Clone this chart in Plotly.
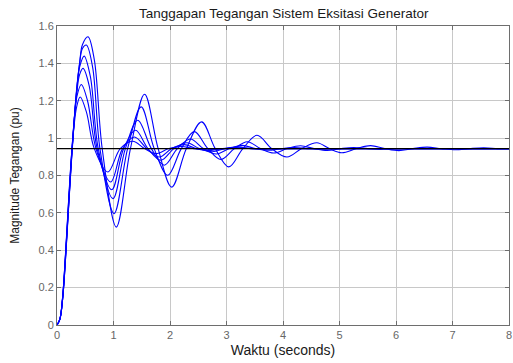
import plotly.graph_objects as go

# Step responses of the generator excitation system (six parameter settings)
t1 = [0, 0.05, 0.10, 0.15, 0.20, 0.25, 0.30, 0.35, 0.40, 0.45, 0.55, 0.66, 0.80, 1.05, 1.30, 1.55, 1.79, 2.03,
      2.29, 2.56, 2.80, 3.04, 3.29, 3.54, 3.80, 4.07, 4.33, 4.60, 4.82, 5.04, 5.30, 5.55, 5.80, 6.05, 6.30,
      6.55, 6.80, 7.05, 7.30, 7.55, 7.80, 8.00]
v1 = [0, 0.03, 0.14, 0.35, 0.60, 0.85, 1.07, 1.26, 1.40, 1.50, 1.542, 1.42, 0.944, 0.524, 0.944, 1.235, 0.944,
      0.738, 0.944, 1.087, 0.944, 0.846, 0.944, 1.015, 0.944, 0.899, 0.944, 0.975, 0.944, 0.922, 0.944, 0.960,
      0.944, 0.933, 0.944, 0.952, 0.944, 0.938, 0.944, 0.948, 0.944, 0.943]

t2 = [0, 0.05, 0.10, 0.15, 0.20, 0.25, 0.30, 0.35, 0.40, 0.45, 0.52, 0.63, 0.76, 1.01, 1.25, 1.49, 1.72, 1.96,
      2.20, 2.43, 2.67, 2.90, 3.14, 3.37, 3.60, 3.84, 4.07, 4.31, 4.55, 4.78, 5.02, 5.25, 5.50, 5.72, 6.00,
      7.00, 8.00]
v2 = [0, 0.03, 0.14, 0.35, 0.61, 0.86, 1.08, 1.27, 1.40, 1.48, 1.498, 1.38, 0.944, 0.596, 0.944, 1.167, 0.944,
      0.801, 0.944, 1.035, 0.944, 0.886, 0.944, 0.981, 0.944, 0.920, 0.944, 0.959, 0.944, 0.934, 0.944, 0.950,
      0.944, 0.940, 0.944, 0.944, 0.944]

t3 = [0, 0.05, 0.10, 0.15, 0.20, 0.25, 0.30, 0.35, 0.40, 0.48, 0.59, 0.73, 0.99, 1.21, 1.43, 1.67, 1.90, 2.13,
      2.36, 2.59, 2.82, 3.05, 3.28, 3.51, 3.74, 3.97, 4.20, 4.43, 4.66, 5.00, 6.00, 7.00, 8.00]
v3 = [0, 0.03, 0.14, 0.36, 0.61, 0.86, 1.08, 1.26, 1.38, 1.439, 1.33, 0.944, 0.676, 0.944, 1.096, 0.944, 0.855,
      0.944, 0.995, 0.944, 0.915, 0.944, 0.961, 0.944, 0.935, 0.944, 0.949, 0.944, 0.941, 0.944, 0.944, 0.944,
      0.944]

t4 = [0, 0.05, 0.10, 0.15, 0.20, 0.25, 0.30, 0.35, 0.40, 0.46, 0.57, 0.71, 0.97, 1.18, 1.39, 1.61, 1.84, 2.07,
      2.30, 2.52, 2.75, 2.97, 3.20, 3.42, 3.65, 4.00, 5.00, 6.00, 7.00, 8.00]
v4 = [0, 0.03, 0.15, 0.37, 0.62, 0.87, 1.08, 1.24, 1.34, 1.373, 1.28, 0.944, 0.724, 0.944, 1.042, 0.944, 0.882,
      0.944, 0.975, 0.944, 0.927, 0.944, 0.953, 0.944, 0.940, 0.944, 0.944, 0.944, 0.944, 0.944]

t5 = [0, 0.05, 0.10, 0.15, 0.20, 0.25, 0.30, 0.35, 0.43, 0.54, 0.69, 0.95, 1.16, 1.37, 1.59, 1.81, 2.03, 2.25,
      2.47, 2.70, 2.92, 3.15, 3.50, 4.00, 5.00, 6.00, 7.00, 8.00]
v5 = [0, 0.03, 0.15, 0.37, 0.63, 0.88, 1.08, 1.22, 1.287, 1.20, 0.944, 0.765, 0.944, 1.006, 0.944, 0.899, 0.944,
      0.965, 0.944, 0.933, 0.944, 0.950, 0.944, 0.944, 0.944, 0.944, 0.944, 0.944]

t6 = [0, 0.05, 0.10, 0.15, 0.20, 0.25, 0.30, 0.35, 0.41, 0.52, 0.66, 0.90, 1.12, 1.34, 1.55, 1.75, 1.98, 2.20,
      2.42, 2.65, 3.00, 4.00, 5.00, 6.00, 7.00, 8.00]
v6 = [0, 0.03, 0.15, 0.38, 0.64, 0.88, 1.06, 1.17, 1.22, 1.14, 0.944, 0.819, 0.944, 0.983, 0.944, 0.917, 0.944,
      0.955, 0.944, 0.938, 0.944, 0.944, 0.944, 0.944, 0.944, 0.944]

# Steady-state reference level
ref_t = [0, 8]
ref_v = [0.944, 0.944]

x_ticks = [0, 1, 2, 3, 4, 5, 6, 7, 8]
y_ticks = [0, 0.2, 0.4, 0.6, 0.8, 1.0, 1.2, 1.4, 1.6]
y_labels = ["0", "0.2", "0.4", "0.6", "0.8", "1", "1.2", "1.4", "1.6"]

FONT = "Liberation Sans, Arial, sans-serif"

fig = go.Figure()
for tt, vv in [(t1, v1), (t2, v2), (t3, v3), (t4, v4), (t5, v5), (t6, v6)]:
    fig.add_trace(go.Scatter(x=tt, y=vv, mode="lines",
                             line=dict(color="#0000ff", width=1.1, shape="spline", smoothing=1.0),
                             showlegend=False, hoverinfo="skip"))
fig.add_trace(go.Scatter(x=ref_t, y=ref_v, mode="lines",
                         line=dict(color="#000000", width=1.4), showlegend=False, hoverinfo="skip"))

axis_common = dict(
    showgrid=True, gridcolor="#c8c8c8", gridwidth=1,
    showline=True, linecolor="#6e6e6e", linewidth=1, mirror="ticks",
    ticks="inside", ticklen=4, tickcolor="#6e6e6e",
    tickfont=dict(family=FONT, size=11, color="#666666"),
    ticklabeloverflow="allow",
    zeroline=False,
)

fig.update_layout(
    width=513, height=363,
    margin=dict(l=57, r=1, t=26, b=38),
    paper_bgcolor="#ffffff", plot_bgcolor="#ffffff",
    title=dict(text="Tanggapan Tegangan Sistem Eksitasi Generator",
               font=dict(family=FONT, size=13.5, color="#1a1a1a"),
               x=0.553, xanchor="center", y=0.963, yanchor="middle"),
    xaxis=dict(range=[0, 8], tickvals=x_ticks, ticktext=[str(v) for v in x_ticks],
               title=dict(text="Waktu (seconds)", standoff=4,
                          font=dict(family=FONT, size=14, color="#1a1a1a")),
               **axis_common),
    yaxis=dict(range=[0, 1.6], tickvals=y_ticks, ticktext=y_labels,
               title=dict(text="Magnitude Tegangan (pu)", standoff=16,
                          font=dict(family=FONT, size=12, color="#1a1a1a")),
               **axis_common),
)

fig.write_html("out.html")
